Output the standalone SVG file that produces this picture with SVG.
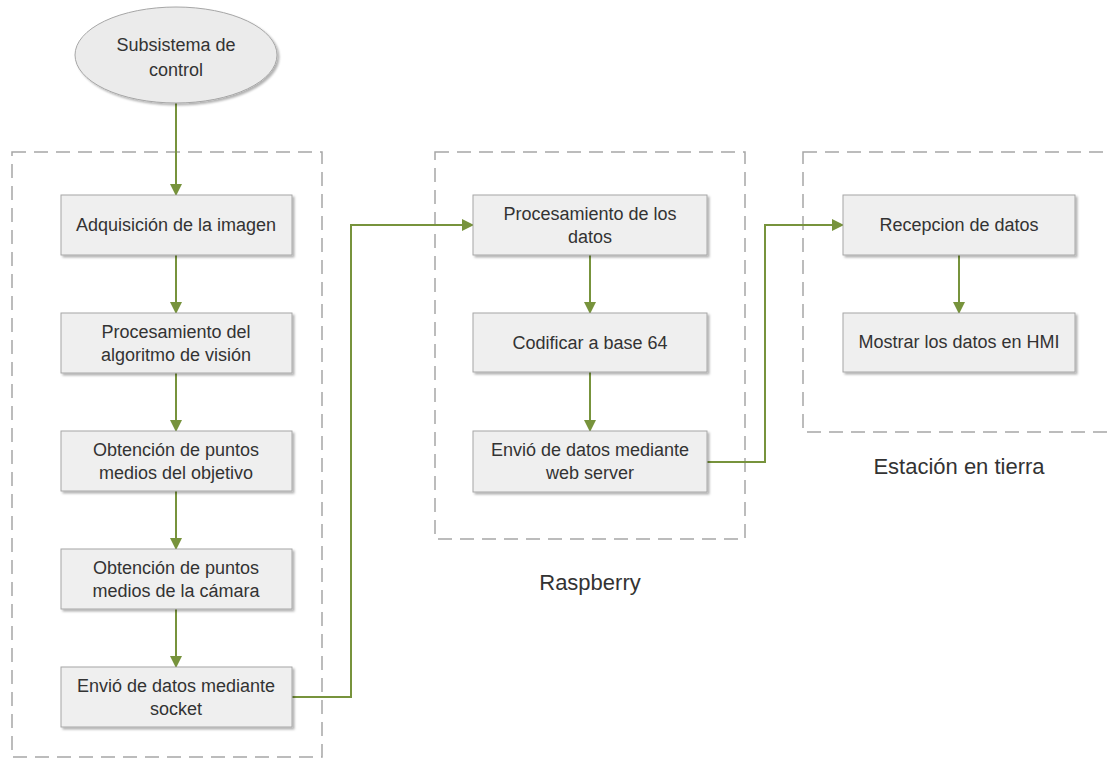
<svg xmlns="http://www.w3.org/2000/svg" width="1108" height="759" viewBox="0 0 1108 759">
  <defs>
    <marker id="arrow" viewBox="0 0 12 12" refX="11" refY="6" markerWidth="12" markerHeight="12" markerUnits="userSpaceOnUse" orient="auto">
      <path d="M0,0 L12,6 L0,12 Z" fill="#77933c"/>
    </marker>
    <filter id="shadow" x="-10%" y="-10%" width="130%" height="140%">
      <feDropShadow dx="2" dy="2" stdDeviation="1.2" flood-color="#000" flood-opacity="0.3"/>
    </filter>
  </defs>
  <style>
    .group { fill: none; stroke: #a6a6a6; stroke-width: 1.5; stroke-dasharray: 14 8; }
    .box { fill: #efefef; stroke: #a6a6a6; stroke-width: 1; filter: url(#shadow); }
    .txt { font-family: "Liberation Sans", Arial, sans-serif; font-size: 18px; fill: #333; text-anchor: middle; }
    .cap { font-family: "Liberation Sans", Arial, sans-serif; font-size: 22px; fill: #333; text-anchor: middle; }
    .conn { fill: none; stroke: #77933c; stroke-width: 2; marker-end: url(#arrow); }
  </style>
  <rect width="1108" height="759" fill="#fff"/>

  <!-- dashed subsystem frames -->
  <g id="frames">
    <rect class="group" x="12" y="152" width="310" height="605"/>
    <rect class="group" x="435" y="152" width="310" height="387"/>
    <rect class="group" x="803" y="152" width="320" height="280"/>
  </g>

  <!-- frame captions -->
  <g id="captions">
    <text class="cap" x="590" y="590">Raspberry</text>
    <text class="cap" x="959" y="474">Estación en tierra</text>
  </g>

  <!-- connectors -->
  <g id="connectors">
    <line class="conn" x1="176" y1="103" x2="176" y2="195"/>
    <line class="conn" x1="176" y1="255" x2="176" y2="313"/>
    <line class="conn" x1="176" y1="373" x2="176" y2="431"/>
    <line class="conn" x1="176" y1="491" x2="176" y2="549"/>
    <line class="conn" x1="176" y1="609" x2="176" y2="667"/>
    <polyline class="conn" points="292,697 351,697 351,225 473,225"/>
    <line class="conn" x1="590" y1="255" x2="590" y2="313"/>
    <line class="conn" x1="590" y1="372" x2="590" y2="431"/>
    <polyline class="conn" points="707,462 765,462 765,225 843,225"/>
    <line class="conn" x1="959" y1="255" x2="959" y2="313"/>
  </g>

  <!-- start node -->
  <g id="start">
    <ellipse cx="176" cy="55" rx="101" ry="48" fill="#ebebeb" stroke="#a6a6a6" stroke-width="1" filter="url(#shadow)"/>
    <text class="txt" x="176" y="51">Subsistema de</text>
    <text class="txt" x="176" y="76">control</text>
  </g>

  <!-- control subsystem steps -->
  <g id="adquisicion">
    <rect class="box" x="61" y="195" width="231" height="60"/>
    <text class="txt" x="176" y="231">Adquisición de la imagen</text>
  </g>
  <g id="procesamiento-vision">
    <rect class="box" x="61" y="313" width="231" height="60"/>
    <text class="txt" x="176" y="338">Procesamiento del</text>
    <text class="txt" x="176" y="361">algoritmo de visión</text>
  </g>
  <g id="puntos-objetivo">
    <rect class="box" x="61" y="431" width="231" height="60"/>
    <text class="txt" x="176" y="456">Obtención de puntos</text>
    <text class="txt" x="176" y="479">medios del objetivo</text>
  </g>
  <g id="puntos-camara">
    <rect class="box" x="61" y="549" width="231" height="60"/>
    <text class="txt" x="176" y="574">Obtención de puntos</text>
    <text class="txt" x="176" y="597">medios de la cámara</text>
  </g>
  <g id="envio-socket">
    <rect class="box" x="61" y="667" width="231" height="60"/>
    <text class="txt" x="176" y="692">Envió de datos mediante</text>
    <text class="txt" x="176" y="715">socket</text>
  </g>

  <!-- Raspberry steps -->
  <g id="procesamiento-datos">
    <rect class="box" x="473" y="195" width="234" height="60"/>
    <text class="txt" x="590" y="220">Procesamiento de los</text>
    <text class="txt" x="590" y="243">datos</text>
  </g>
  <g id="codificar">
    <rect class="box" x="473" y="313" width="234" height="59"/>
    <text class="txt" x="590" y="349">Codificar a base 64</text>
  </g>
  <g id="envio-web">
    <rect class="box" x="473" y="431" width="234" height="61"/>
    <text class="txt" x="590" y="456">Envió de datos mediante</text>
    <text class="txt" x="590" y="479">web server</text>
  </g>

  <!-- ground station steps -->
  <g id="recepcion">
    <rect class="box" x="843" y="195" width="232" height="60"/>
    <text class="txt" x="959" y="231">Recepcion de datos</text>
  </g>
  <g id="mostrar-hmi">
    <rect class="box" x="843" y="313" width="232" height="59"/>
    <text class="txt" x="959" y="348">Mostrar los datos en HMI</text>
  </g>
</svg>
